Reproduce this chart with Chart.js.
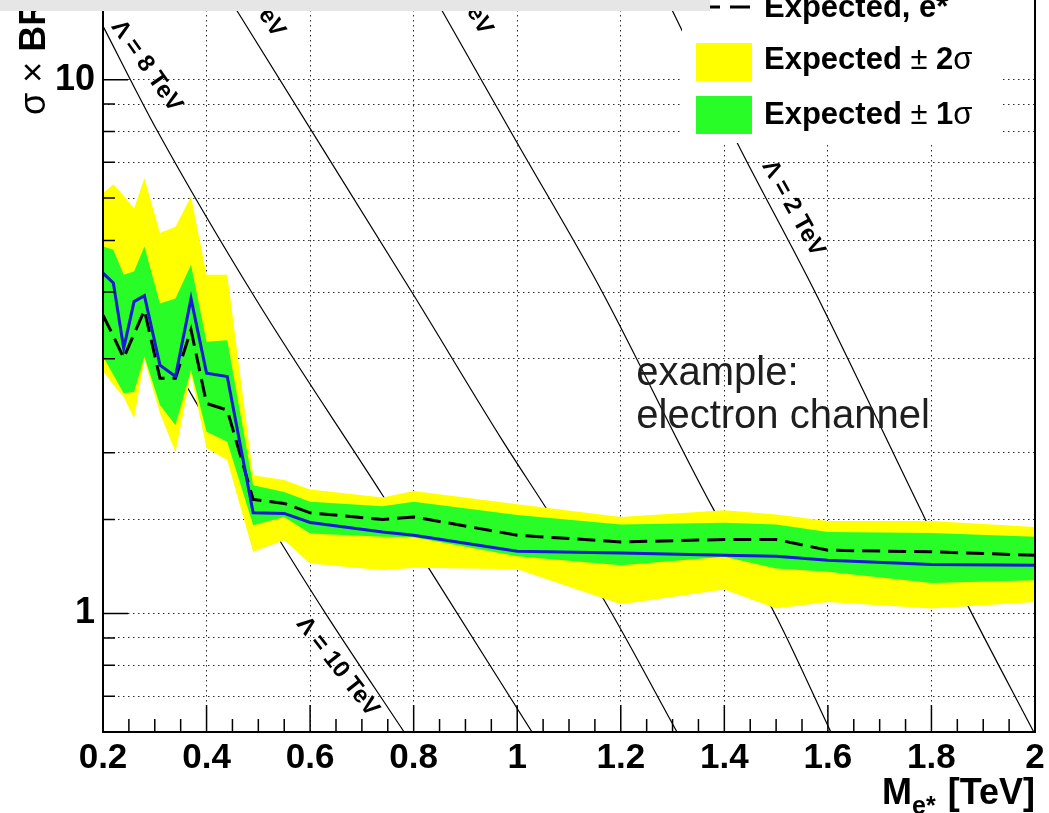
<!DOCTYPE html>
<html>
<head>
<meta charset="utf-8">
<title>Excited electron limit</title>
<script src="https://cdn.jsdelivr.net/npm/chart.js@4.4.1/dist/chart.umd.min.js"></script>
<style>
  html, body { margin: 0; padding: 0; background: #fff; }
  #wrap { position: relative; width: 1049px; height: 813px; overflow: hidden; }
  #topBar { position: absolute; left: 0; top: 0; width: 710px; height: 11px; background: #e6e6e6; }
</style>
</head>
<body>
<div id="wrap">
  <canvas id="limitChart"></canvas>
  <div id="topBar"></div>
</div>
<script>
// --- data ---
// excited electron mass points [TeV]
const masses = [0.2, 0.22, 0.24, 0.26, 0.28, 0.31, 0.34, 0.37, 0.4, 0.44, 0.49, 0.55, 0.6, 0.74, 0.8, 1.0, 1.2, 1.4, 1.5, 1.6, 1.8, 2.0];

// sigma x BR limits
const observed = [4.34, 4.16, 3.14, 3.84, 3.94, 2.92, 2.78, 3.89, 2.82, 2.78, 1.544, 1.540, 1.481, 1.422, 1.402, 1.308, 1.299, 1.286, 1.280, 1.259, 1.235, 1.232];
const expected = [3.62, 3.31, 3.01, 3.34, 3.70, 2.76, 2.76, 3.40, 2.475, 2.405, 1.636, 1.608, 1.544, 1.500, 1.517, 1.402, 1.362, 1.376, 1.376, 1.314, 1.305, 1.286];
const oneSigmaHi = [4.87, 4.80, 4.31, 4.37, 4.87, 3.81, 3.89, 4.50, 3.23, 3.25, 1.740, 1.690, 1.619, 1.589, 1.619, 1.529, 1.468, 1.479, 1.468, 1.422, 1.416, 1.392];
const oneSigmaLo = [3.03, 2.80, 2.585, 2.60, 3.03, 2.457, 2.254, 2.858, 2.190, 2.097, 1.464, 1.517, 1.413, 1.392, 1.390, 1.280, 1.232, 1.277, 1.214, 1.197, 1.141, 1.154];
const twoSigmaHi = [6.13, 6.37, 6.06, 5.74, 6.54, 5.16, 5.30, 6.04, 4.31, 4.31, 1.816, 1.778, 1.708, 1.650, 1.697, 1.603, 1.517, 1.562, 1.533, 1.491, 1.491, 1.453];
const twoSigmaLo = [2.846, 2.68, 2.544, 2.323, 2.984, 2.374, 2.006, 2.809, 2.041, 1.938, 1.305, 1.372, 1.241, 1.206, 1.218, 1.211, 1.041, 1.109, 1.022, 1.051, 1.022, 1.051];

// theory curves for several Lambda values (mass, sigma x BR)
const lam10X = [0.2, 0.374, 0.541, 0.63, 0.782];
const lam10Y = [5.12, 2.54, 1.372, 1.0, 0.599];
const lam8X = [0.2, 0.304, 0.496, 0.74, 0.844, 1.029];
const lam8Y = [12.6, 8.05, 3.87, 1.666, 1.154, 0.599];
const lam6X = [0.398, 0.46, 0.802, 0.971, 1.056, 1.168, 1.309];
const lam6Y = [16.8, 13.4, 3.92, 2.113, 1.575, 1.059, 0.599];
const lam4X = [0.809, 0.856, 1.0, 1.159, 1.38, 1.492, 1.606];
const lam4Y = [16.1, 13.4, 7.61, 4.09, 1.562, 1.023, 0.599];
const lam2X = [1.27, 1.299, 1.425, 1.573, 1.789, 1.872, 1.998];
const lam2Y = [15.4, 13.5, 7.61, 4.04, 1.496, 1.027, 0.599];

// axis ranges
const xMin = 0.2, xMax = 2.0;
const yMin = 0.6, yMax = 14.1;

// curve labels, placed in data units
const lambdaLabels = [
  { text: 'Λ = 10 TeV', x: 0.653, y: 0.795, angle: 52, align: 'center' },
  { text: 'Λ = 8 TeV', x: 0.284, y: 10.6, angle: 55, align: 'center' },
  { text: 'Λ = 6 TeV', x: 0.541, y: 12.13, angle: 57, align: 'right' },
  { text: 'Λ = 4 TeV', x: 0.941, y: 12.24, angle: 60, align: 'right' },
  { text: 'Λ = 2 TeV', x: 1.533, y: 5.74, angle: 61, align: 'center' }
];
const noteLines = ['example:', 'electron channel'];
const noteX = 1.23;
const noteY = [2.679, 2.225];

const FONT = "'Liberation Sans', Arial, Helvetica, sans-serif";
const YELLOW = '#ffff00';
const GREEN = '#28fd28';

function pts(xs, ys) {
  return xs.map((x, i) => ({ x: x, y: ys[i] }));
}

function theory(label, xs, ys) {
  return {
    label: label,
    data: pts(xs, ys),
    borderColor: '#000',
    borderWidth: 1.2,
    pointRadius: 0,
    fill: false,
    cubicInterpolationMode: 'monotone',
    order: 20
  };
}

// draw a run of text pieces with mixed weights, left to right
function drawPieces(ctx, pieces, x, y, size) {
  pieces.forEach(p => {
    ctx.font = `${p[1]} ${size}px ${FONT}`;
    ctx.fillText(p[0], x, y);
    x += ctx.measureText(p[0]).width;
  });
}

function drawLegend(ctx) {
  ctx.save();
  ctx.fillStyle = '#fff';
  ctx.fillRect(682, -10, 318, 153);

  // expected line entry (top, mostly cut off)
  ctx.strokeStyle = '#000';
  ctx.lineWidth = 3;
  ctx.setLineDash([20, 10]);
  ctx.beginPath();
  ctx.moveTo(700, 7);
  ctx.lineTo(751, 7);
  ctx.stroke();
  ctx.setLineDash([]);

  ctx.fillStyle = YELLOW;
  ctx.fillRect(696, 43, 56, 38);
  ctx.fillStyle = GREEN;
  ctx.fillRect(696, 96, 56, 38);

  ctx.fillStyle = '#000';
  ctx.textAlign = 'left';
  ctx.textBaseline = 'alphabetic';
  drawPieces(ctx, [['Expected, e*', 'bold']], 764, 17, 31);
  drawPieces(ctx, [['Expected', 'bold'], [' ± ', 'normal'], ['2', 'bold'], ['σ', 'normal']], 764, 69, 31);
  drawPieces(ctx, [['Expected', 'bold'], [' ± ', 'normal'], ['1', 'bold'], ['σ', 'normal']], 764, 124, 31);
  ctx.restore();
}

const rootStyle = {
  id: 'rootStyle',
  afterDatasetsDraw(chart) {
    const ctx = chart.ctx;
    const xs = chart.scales.x, ys = chart.scales.y;
    const area = chart.chartArea;

    // Lambda labels along the theory curves
    ctx.save();
    ctx.beginPath();
    ctx.rect(area.left, area.top, area.right - area.left, area.bottom - area.top);
    ctx.clip();
    ctx.fillStyle = '#000';
    ctx.font = `bold 24px ${FONT}`;
    ctx.textBaseline = 'middle';
    lambdaLabels.forEach(l => {
      ctx.save();
      ctx.translate(xs.getPixelForValue(l.x), ys.getPixelForValue(l.y));
      ctx.rotate(l.angle * Math.PI / 180);
      ctx.textAlign = l.align;
      ctx.fillText(l.text, 0, 0);
      ctx.restore();
    });
    ctx.restore();

    drawLegend(ctx);

    // note text
    ctx.save();
    ctx.fillStyle = '#1e1e1e';
    ctx.font = `40px ${FONT}`;
    ctx.textAlign = 'left';
    ctx.textBaseline = 'alphabetic';
    noteLines.forEach((t, i) => {
      ctx.fillText(t, xs.getPixelForValue(noteX), ys.getPixelForValue(noteY[i]));
    });
    ctx.restore();
  },
  afterDraw(chart) {
    const ctx = chart.ctx;
    const xs = chart.scales.x, ys = chart.scales.y;
    const { left, right, top, bottom } = chart.chartArea;

    ctx.save();
    ctx.strokeStyle = '#000';
    ctx.lineWidth = 2;
    ctx.beginPath();
    ctx.moveTo(left, top);
    ctx.lineTo(left, bottom);
    ctx.lineTo(right, bottom);
    ctx.lineTo(right, top);
    ctx.stroke();

    // tick marks inside the frame, ROOT style
    ctx.lineWidth = 1.5;
    ctx.beginPath();
    for (let k = 0; k <= 36; k++) {
      const v = xMin + k * 0.05;
      const px = xs.getPixelForValue(v);
      const len = (k % 4 === 0) ? 27 : 13;
      ctx.moveTo(px, bottom);
      ctx.lineTo(px, bottom - len);
    }
    ys.ticks.forEach(t => {
      const v = t.value;
      if (v <= yMin + 1e-6 || v >= yMax - 1e-6) return;
      const py = ys.getPixelForValue(v);
      const major = Math.abs(v - 1) < 1e-6 || Math.abs(v - 10) < 1e-6;
      ctx.moveTo(left, py);
      ctx.lineTo(left + (major ? 25 : 12), py);
    });
    ctx.stroke();

    // x axis title: M_{e*} [TeV]
    ctx.fillStyle = '#000';
    ctx.textBaseline = 'alphabetic';
    ctx.textAlign = 'right';
    ctx.font = `bold 36px ${FONT}`;
    const tx = right;
    const ty = bottom + 72;
    ctx.fillText('[TeV]', tx, ty);
    const w1 = ctx.measureText('[TeV]').width + 12;
    ctx.font = `bold 25px ${FONT}`;
    ctx.fillText('e*', tx - w1, ty + 10);
    const w2 = ctx.measureText('e*').width;
    ctx.font = `bold 36px ${FONT}`;
    ctx.fillText('M', tx - w1 - w2, ty);

    // y axis title, rotated, starting near the upper part of the axis
    ctx.save();
    ctx.translate(left - 58, 115);
    ctx.rotate(-Math.PI / 2);
    ctx.textAlign = 'left';
    drawPieces(ctx, [['σ', 'normal'], [' × ', 'normal'], ['BR [pb]', 'bold']], 0, 0, 36);
    ctx.restore();
    ctx.restore();
  }
};

const gridColor = '#2a2a2a';

new Chart(document.getElementById('limitChart').getContext('2d'), {
  type: 'line',
  data: {
    datasets: [
      { label: 'Observed', data: pts(masses, observed), borderColor: '#1a1ad2', borderWidth: 3, pointRadius: 0, fill: false, order: 1 },
      { label: 'Expected', data: pts(masses, expected), borderColor: '#000', borderWidth: 3, borderDash: [18, 8], pointRadius: 0, fill: false, order: 2 },
      { label: 'Expected +1 sigma', data: pts(masses, oneSigmaHi), borderWidth: 0, borderColor: 'rgba(0,0,0,0)', backgroundColor: GREEN, pointRadius: 0, fill: '+1', order: 3 },
      { label: 'Expected -1 sigma', data: pts(masses, oneSigmaLo), borderWidth: 0, borderColor: 'rgba(0,0,0,0)', pointRadius: 0, fill: false, order: 4 },
      { label: 'Expected +2 sigma', data: pts(masses, twoSigmaHi), borderWidth: 0, borderColor: 'rgba(0,0,0,0)', backgroundColor: YELLOW, pointRadius: 0, fill: '+1', order: 5 },
      { label: 'Expected -2 sigma', data: pts(masses, twoSigmaLo), borderWidth: 0, borderColor: 'rgba(0,0,0,0)', pointRadius: 0, fill: false, order: 6 },
      theory('Lambda 10 TeV', lam10X, lam10Y),
      theory('Lambda 8 TeV', lam8X, lam8Y),
      theory('Lambda 6 TeV', lam6X, lam6Y),
      theory('Lambda 4 TeV', lam4X, lam4Y),
      theory('Lambda 2 TeV', lam2X, lam2Y)
    ]
  },
  options: {
    responsive: true,
    maintainAspectRatio: false,
    animation: false,
    layout: { padding: { left: 0, right: 14, top: 0, bottom: 0 } },
    plugins: { legend: { display: false }, tooltip: { enabled: false } },
    scales: {
      x: {
        type: 'linear',
        min: xMin,
        max: xMax,
        ticks: {
          stepSize: 0.2,
          autoSkip: false,
          maxRotation: 0,
          padding: 5,
          color: '#000',
          font: { family: FONT, size: 35, weight: 'bold' },
          callback: v => String(Math.round(v * 10) / 10)
        },
        grid: {
          drawTicks: false,
          lineWidth: 1,
          color: c => (c.tick && c.tick.value > xMin + 0.01 && c.tick.value < xMax - 0.01) ? gridColor : 'rgba(0,0,0,0)'
        },
        border: { display: false, dash: [1.5, 3.5] },
        afterFit: s => { s.height = 81; s.paddingLeft = 0; s.paddingRight = 0; }
      },
      y: {
        type: 'logarithmic',
        min: yMin,
        max: yMax,
        ticks: {
          autoSkip: false,
          padding: 8,
          color: '#000',
          font: { family: FONT, size: 36, weight: 'bold' },
          callback: v => (Math.abs(v - 1) < 1e-6 ? '1' : (Math.abs(v - 10) < 1e-6 ? '10' : ''))
        },
        grid: {
          drawTicks: false,
          lineWidth: 1,
          color: c => (c.tick && c.tick.value > yMin + 0.01 && c.tick.value < 11) ? gridColor : 'rgba(0,0,0,0)'
        },
        border: { display: false, dash: [1.5, 3.5] },
        afterFit: s => { s.width = 103; s.paddingTop = 0; s.paddingBottom = 0; }
      }
    }
  },
  plugins: [rootStyle]
});
</script>
</body>
</html>
